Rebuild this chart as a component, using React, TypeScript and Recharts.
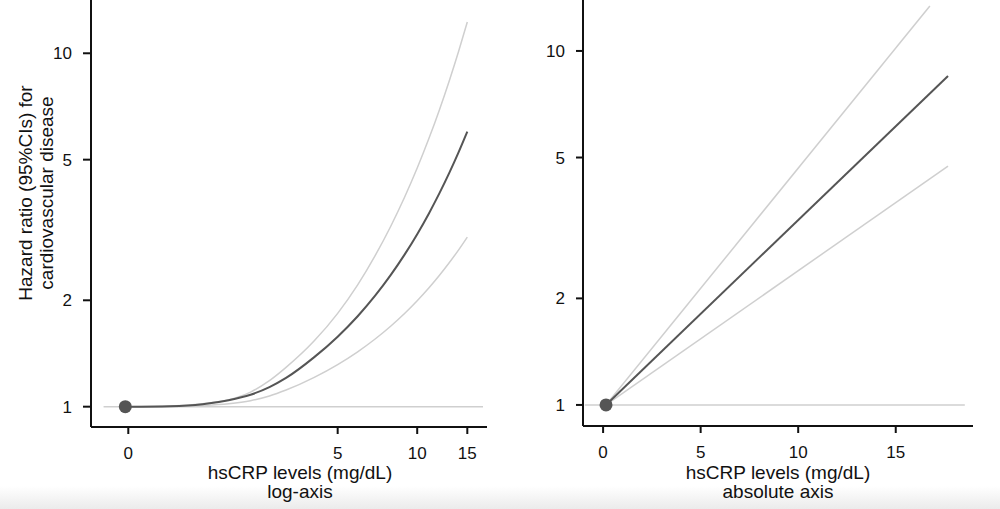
import React from 'react'
import { LineChart, Line, XAxis, YAxis, ReferenceDot } from 'recharts'

// hsCRP values (left panel, log axis)
const leftX = [0, 0.5, 1, 1.5, 2, 2.5, 3, 4, 5, 6, 7, 8, 9, 10, 11, 12, 13, 14, 15]
const leftHR = [1.0, 1.0033, 1.0164, 1.0433, 1.081, 1.136, 1.206, 1.381, 1.578, 1.803, 2.061, 2.356, 2.693, 3.077, 3.517, 4.02, 4.594, 5.251, 6.0]
const leftUpper = [1.0, 1.0046, 1.0197, 1.046, 1.1, 1.185, 1.292, 1.536, 1.837, 2.211, 2.675, 3.235, 3.913, 4.734, 5.726, 6.925, 8.377, 10.13, 12.26]
const leftLower = [1.0, 1.0013, 1.0078, 1.0197, 1.04, 1.0725, 1.115, 1.211, 1.316, 1.43, 1.554, 1.689, 1.835, 1.994, 2.166, 2.354, 2.558, 2.779, 3.02]

// right panel, absolute axis: straight lines on log-y
const rightCenterX = [0, 17.68]
const rightCenterHR = [0.982, 8.5]
const rightUpperX = [0, 16.75]
const rightUpperHR = [0.977, 13.4]
const rightLowerX = [0, 17.68]
const rightLowerHR = [0.987, 4.73]

const leftRefX = [-0.23, 16.98]
const rightRefX = [-0.94, 18.54]
const dotLeft = { x: -0.03, y: 1 }
const dotRight = { x: 0.15, y: 1 }

const xTicks = [0, 5, 10, 15]
const yTicks = [1, 2, 5, 10]

// the log x axis is log10(hsCRP + shift) so that 0 can sit on it
const X_SHIFT = 1.4

const FONT = '"Liberation Sans", Arial, Helvetica, sans-serif'
const DARK = '#555555'
const LIGHT = '#cfcfcf'
const AXIS = '#111111'

const toRows = (xs: number[], ys: number[], shift = 0) =>
  xs.map((x, i) => ({ x: x + shift, y: ys[i] }))

const tickStyle = { fontSize: 17, fill: '#111', fontFamily: FONT }
const axisLine = { stroke: AXIS, strokeWidth: 2 }
const tickLine = { stroke: AXIS, strokeWidth: 2 }

function XTitle({ x, sub }: { x: number; sub: string }) {
  return (
    <g fontFamily={FONT} fontSize={19} fill="#111" textAnchor="middle">
      <text x={x} y={478.5}>hsCRP levels (mg/dL)</text>
      <text x={x} y={498}>{sub}</text>
    </g>
  )
}

function LeftPanel() {
  return (
    <LineChart width={500} height={509} margin={{ top: 0, right: 13, bottom: 0, left: 0 }}>
      <XAxis
        type="number"
        dataKey="x"
        scale="log"
        domain={[1.068, 18.92]}
        allowDataOverflow
        ticks={xTicks.map((v) => v + X_SHIFT)}
        tickFormatter={(v: number) => String(Math.round(v - X_SHIFT))}
        height={82}
        tickSize={7}
        tickMargin={13}
        tick={tickStyle}
        axisLine={axisLine}
        tickLine={tickLine}
      />
      <YAxis
        type="number"
        dataKey="y"
        scale="log"
        domain={[0.876, 14.15]}
        allowDataOverflow
        ticks={yTicks}
        width={91}
        tickSize={8}
        tickMargin={11}
        tick={tickStyle}
        axisLine={axisLine}
        tickLine={tickLine}
      />
      <Line data={toRows(leftRefX, [1, 1], X_SHIFT)} dataKey="y" stroke={LIGHT} strokeWidth={1.5} dot={false} activeDot={false} isAnimationActive={false} />
      <Line data={toRows(leftX, leftUpper, X_SHIFT)} dataKey="y" type="monotone" stroke={LIGHT} strokeWidth={1.5} dot={false} activeDot={false} isAnimationActive={false} />
      <Line data={toRows(leftX, leftLower, X_SHIFT)} dataKey="y" type="monotone" stroke={LIGHT} strokeWidth={1.5} dot={false} activeDot={false} isAnimationActive={false} />
      <Line data={toRows(leftX, leftHR, X_SHIFT)} dataKey="y" type="monotone" stroke={DARK} strokeWidth={2} dot={false} activeDot={false} isAnimationActive={false} />
      <ReferenceDot x={dotLeft.x + X_SHIFT} y={dotLeft.y} r={6.5} fill={DARK} stroke="none" />
      <g fontFamily={FONT} fontSize={19} fill="#111" textAnchor="middle">
        <text transform="rotate(-90)" x={-193} y={32}>Hazard ratio (95%CIs) for</text>
        <text transform="rotate(-90)" x={-193} y={53}>cardiovascular disease</text>
      </g>
      <XTitle x={300} sub="log-axis" />
    </LineChart>
  )
}

function RightPanel() {
  return (
    <LineChart width={500} height={509} margin={{ top: 0, right: 27, bottom: 0, left: 0 }}>
      <XAxis
        type="number"
        dataKey="x"
        domain={[-1.03, 18.96]}
        allowDataOverflow
        ticks={xTicks}
        height={83}
        tickSize={7}
        tickMargin={13}
        tick={tickStyle}
        axisLine={axisLine}
        tickLine={tickLine}
      />
      <YAxis
        type="number"
        dataKey="y"
        scale="log"
        domain={[0.872, 13.93]}
        allowDataOverflow
        ticks={yTicks}
        width={83}
        tickSize={7}
        tickMargin={11}
        tick={tickStyle}
        axisLine={axisLine}
        tickLine={tickLine}
      />
      <Line data={toRows(rightRefX, [1, 1])} dataKey="y" stroke={LIGHT} strokeWidth={1.5} dot={false} activeDot={false} isAnimationActive={false} />
      <Line data={toRows(rightUpperX, rightUpperHR)} dataKey="y" stroke={LIGHT} strokeWidth={1.5} dot={false} activeDot={false} isAnimationActive={false} />
      <Line data={toRows(rightLowerX, rightLowerHR)} dataKey="y" stroke={LIGHT} strokeWidth={1.5} dot={false} activeDot={false} isAnimationActive={false} />
      <Line data={toRows(rightCenterX, rightCenterHR)} dataKey="y" stroke={DARK} strokeWidth={2} dot={false} activeDot={false} isAnimationActive={false} />
      <ReferenceDot x={dotRight.x} y={dotRight.y} r={6.5} fill={DARK} stroke="none" />
      <XTitle x={278} sub="absolute axis" />
    </LineChart>
  )
}

export default function App() {
  return (
    <div style={{ position: 'absolute', left: 0, top: 0, width: 1000, height: 509, background: '#fff', overflow: 'hidden' }}>
      {/* grey strip at the bottom of the screenshot */}
      <div style={{ position: 'absolute', left: 0, top: 486, width: 1000, height: 23, background: 'linear-gradient(#ffffff, #ebebeb)' }} />
      <div style={{ position: 'absolute', left: 0, top: 0 }}>
        <LeftPanel />
      </div>
      <div style={{ position: 'absolute', left: 500, top: 0 }}>
        <RightPanel />
      </div>
    </div>
  )
}
